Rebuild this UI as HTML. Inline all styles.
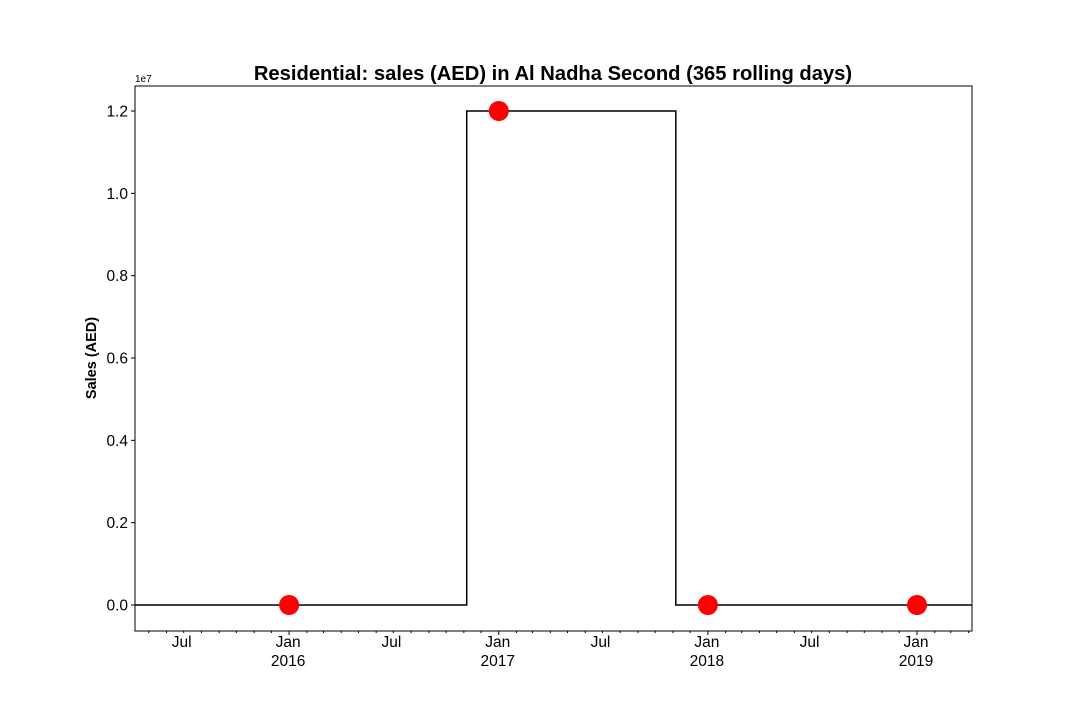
<!DOCTYPE html>
<html><head><meta charset="utf-8"><style>
body{margin:0;background:#fff;}
svg text{font-family:"Liberation Sans","DejaVu Sans",sans-serif;}
</style></head><body>
<svg id="chart" width="1080" height="720" xmlns="http://www.w3.org/2000/svg">
<rect width="1080" height="720" fill="#fff"/>
<text x="553" y="80" text-anchor="middle" font-size="20.2" font-weight="bold">Residential: sales (AED) in Al Nadha Second (365 rolling days)</text>
<text transform="translate(96,358) rotate(-90)" text-anchor="middle" font-size="14.5" font-weight="bold">Sales (AED)</text>
<text x="135" y="82" font-size="10">1e7</text>
<g id="plot"></g>
<rect x="135" y="86" width="837" height="545" fill="none" stroke="#000" stroke-width="1"/>
</svg>
<script>
const stepDates = ["2015-04-07","2016-11-06","2017-11-06","2019-04-07"];
const stepValues = [0, 12000000, 0];
const pointDates = ["2016-01-01","2017-01-01","2018-01-01","2019-01-01"];
const pointValues = [0, 12000000, 0, 0];
const yTicks = [0, 2000000, 4000000, 6000000, 8000000, 10000000, 12000000];
const yTickLabels = ["0.0","0.2","0.4","0.6","0.8","1.0","1.2"];
const xMajorDates = ["2016-01-01","2017-01-01","2018-01-01","2019-01-01"];
const xMajorLabels = ["2016","2017","2018","2019"];

const NS="http://www.w3.org/2000/svg";
const g=document.getElementById('plot');
const x0=Date.parse("2015-04-07"), x1=Date.parse("2019-04-07");
const X=d=>135+(Date.parse(d)-x0)/(x1-x0)*837;
const Y=v=>605-v/12000000*494;
function mk(t,a){const e=document.createElementNS(NS,t);for(const k in a)e.setAttribute(k,a[k]);g.appendChild(e);return e;}
yTicks.forEach((v,i)=>{
  const t=mk('line',{x1:131,x2:135,y1:Y(v),y2:Y(v),stroke:'#000'});
  
  
  const l=mk('text',{x:128,y:Y(v)+5.5,'text-anchor':'end','font-size':15.5});
  
  
  l.textContent=yTickLabels[i];
});
for(let yr=2015;yr<=2019;yr++)for(let m=0;m<12;m++){
  const d=new Date(Date.UTC(yr,m,1)).toISOString().slice(0,10);
  const px=X(d); if(px<135||px>972)continue;
  const major=m===0;
  const t=mk('line',{x1:px,x2:px,y1:631,y2:major?635:633,stroke:'#000'});
  
  
  if(m===6){
    const l=mk('text',{x:px-2,y:647,'text-anchor':'middle','font-size':15.5});
    
    
    l.textContent='Jul';
  }
}
xMajorDates.forEach((d,i)=>{
  const l=mk('text',{x:X(d)-1,y:647,'text-anchor':'middle','font-size':15.5});
  
  
  l.textContent='Jan';
  const l2=mk('text',{x:X(d)-1,y:666,'text-anchor':'middle','font-size':15.5});
  
  
  l2.textContent=xMajorLabels[i];
});
let p='';
stepValues.forEach((v,i)=>{
  p+=(i===0?'M':'L')+X(stepDates[i])+','+Y(v)+' L'+X(stepDates[i+1])+','+Y(v)+' ';
});
const line=mk('path',{d:p,fill:'none',stroke:'#000','stroke-width':1.5});


pointDates.forEach((d,i)=>{
  const c=mk('circle',{cx:X(d),cy:Y(pointValues[i]),r:10,fill:'#ff0000'});
  
  
});
</script>
</body></html>
